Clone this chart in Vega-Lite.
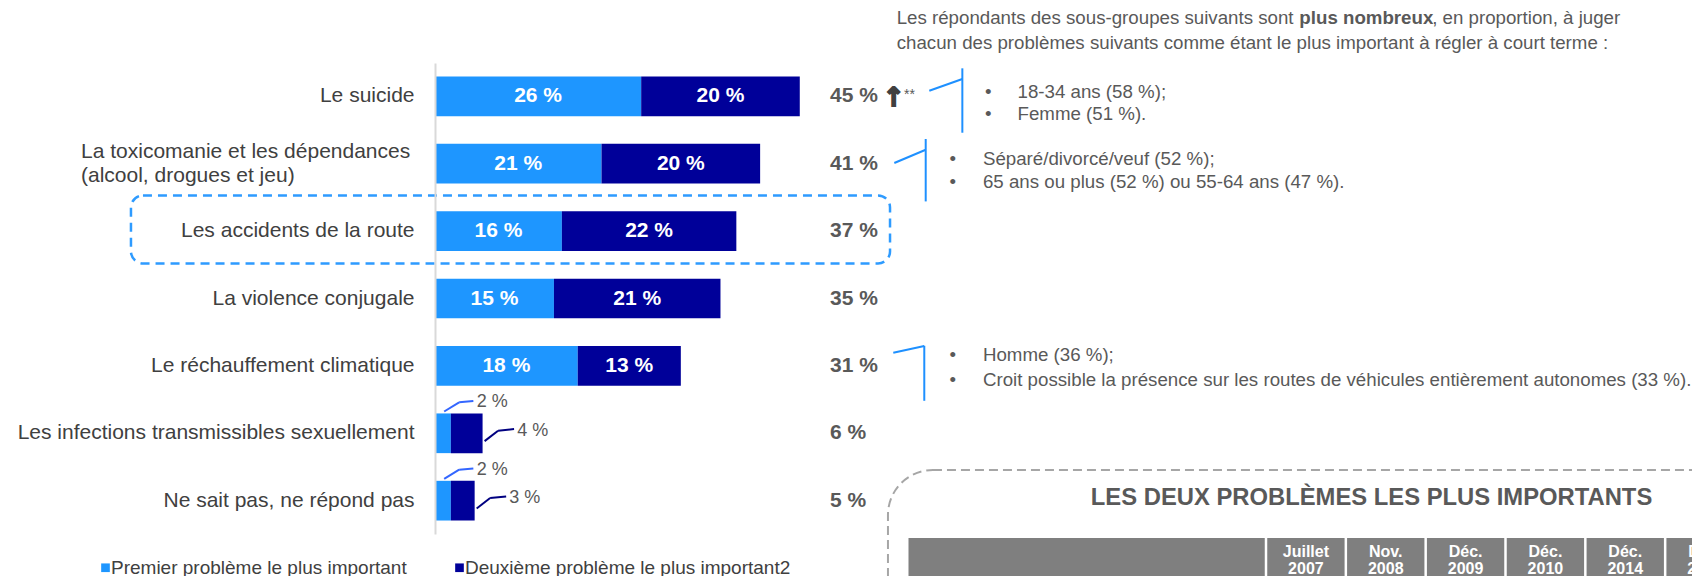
{
  "$schema": "https://vega.github.io/schema/vega-lite/v6.json",
  "width": 1692,
  "height": 471,
  "autosize": "none",
  "padding": {"left": 0, "top": 63, "right": 0, "bottom": 42},
  "background": "white",
  "config": {
    "font": "Liberation Sans",
    "view": {"stroke": null},
    "locale": {"number": {"decimal": ",", "thousands": " ", "grouping": [3], "currency": ["", " $"], "percent": " %"}}
  },
  "datasets": {
    "barres": [
      {"probleme": "Le suicide", "serie": "Premier problème le plus important", "valeur": 0.26},
      {"probleme": "Le suicide", "serie": "Deuxième problème le plus important2", "valeur": 0.20},
      {"probleme": "La toxicomanie et les dépendances (alcool, drogues et jeu)", "serie": "Premier problème le plus important", "valeur": 0.21},
      {"probleme": "La toxicomanie et les dépendances (alcool, drogues et jeu)", "serie": "Deuxième problème le plus important2", "valeur": 0.20},
      {"probleme": "Les accidents de la route", "serie": "Premier problème le plus important", "valeur": 0.16},
      {"probleme": "Les accidents de la route", "serie": "Deuxième problème le plus important2", "valeur": 0.22},
      {"probleme": "La violence conjugale", "serie": "Premier problème le plus important", "valeur": 0.15},
      {"probleme": "La violence conjugale", "serie": "Deuxième problème le plus important2", "valeur": 0.21},
      {"probleme": "Le réchauffement climatique", "serie": "Premier problème le plus important", "valeur": 0.18},
      {"probleme": "Le réchauffement climatique", "serie": "Deuxième problème le plus important2", "valeur": 0.13},
      {"probleme": "Les infections transmissibles sexuellement", "serie": "Premier problème le plus important", "valeur": 0.02},
      {"probleme": "Les infections transmissibles sexuellement", "serie": "Deuxième problème le plus important2", "valeur": 0.04},
      {"probleme": "Ne sait pas, ne répond pas", "serie": "Premier problème le plus important", "valeur": 0.02},
      {"probleme": "Ne sait pas, ne répond pas", "serie": "Deuxième problème le plus important2", "valeur": 0.03}
    ],
    "totaux": [
      {"probleme": "Le suicide", "total": 0.45},
      {"probleme": "La toxicomanie et les dépendances (alcool, drogues et jeu)", "total": 0.41},
      {"probleme": "Les accidents de la route", "total": 0.37},
      {"probleme": "La violence conjugale", "total": 0.35},
      {"probleme": "Le réchauffement climatique", "total": 0.31},
      {"probleme": "Les infections transmissibles sexuellement", "total": 0.06},
      {"probleme": "Ne sait pas, ne répond pas", "total": 0.05}
    ],
    "periodes": [
      {"periode": "Juillet 2007"},
      {"periode": "Nov. 2008"},
      {"periode": "Déc. 2009"},
      {"periode": "Déc. 2010"},
      {"periode": "Déc. 2014"},
      {"periode": "Déc. 2016"}
    ],
    "une": [{}]
  },
  "data": {"name": "barres"},
  "resolve": {"scale": {"x": "independent"}},
  "layer": [
    {
      "layer": [
        {
          "data": {"name": "une"},
          "mark": {"type": "rect", "fill": "transparent", "stroke": "#2E9BFF", "strokeWidth": 2.5, "strokeDash": [9, 6], "cornerRadius": 12, "yOffset": -35.7, "y2Offset": 32.3},
          "encoding": {
            "x": {"datum": -0.3834, "axis": null},
            "x2": {"datum": 0.5738},
            "y": {"datum": "Les accidents de la route"},
            "y2": {"datum": "Les accidents de la route"}
          }
        },
        {
          "transform": [{"stack": "valeur", "groupby": ["probleme"], "sort": [{"field": "serie", "order": "descending"}], "as": ["debut", "fin"]}],
          "mark": {"type": "bar"},
          "encoding": {
            "y": {
              "field": "probleme", "type": "nominal", "title": null,
              "scale": {"domain": ["Le suicide", "La toxicomanie et les dépendances (alcool, drogues et jeu)", "Les accidents de la route", "La violence conjugale", "Le réchauffement climatique", "Les infections transmissibles sexuellement", "Ne sait pas, ne répond pas"], "paddingInner": 0.411, "paddingOuter": 0.2},
              "axis": {
                "title": null, "offset": -435, "domainColor": "#D9D9D9", "domainWidth": 2, "ticks": false, "grid": false,
                "labelPadding": 21, "labelFontSize": 21, "labelColor": "#404040", "labelLimit": 600,
                "labelExpr": "datum.value == 'La toxicomanie et les dépendances (alcool, drogues et jeu)' ? '' : datum.value"
              }
            },
            "x": {"field": "debut", "type": "quantitative", "axis": null, "scale": {"domain": [-0.54855, 1.58512], "nice": false, "zero": false}},
            "x2": {"field": "fin"},
            "color": {
              "field": "serie", "type": "nominal",
              "scale": {"domain": ["Premier problème le plus important", "Deuxième problème le plus important2"], "range": ["#1E96FF", "#000099"]},
              "legend": {"orient": "none", "legendX": 96, "legendY": 495, "direction": "horizontal", "title": null, "symbolType": "square", "symbolSize": 75, "symbolStrokeWidth": 0, "labelFontSize": 19, "labelColor": "#404040", "labelOffset": -4, "columnPadding": 43, "labelLimit": 500}
            }
          }
        },
        {
          "data": {"name": "une"},
          "mark": {"type": "text", "text": ["La toxicomanie et les dépendances", "(alcool, drogues et jeu)"], "fontSize": 21, "color": "#404040", "align": "left", "baseline": "middle", "dy": -11.8, "lineHeight": 23.7},
          "encoding": {"x": {"datum": -0.4464, "axis": null}, "y": {"datum": "La toxicomanie et les dépendances (alcool, drogues et jeu)"}}
        },
        {
          "transform": [
            {"stack": "valeur", "groupby": ["probleme"], "sort": [{"field": "serie", "order": "descending"}], "as": ["debut", "fin"]},
            {"filter": "datum.valeur >= 0.1"},
            {"fold": ["debut", "fin"], "as": ["borne", "pos"]},
            {"aggregate": [{"op": "mean", "field": "pos", "as": "milieu"}], "groupby": ["probleme", "serie", "valeur"]}
          ],
          "mark": {"type": "text", "color": "white", "fontWeight": "bold", "fontSize": 21, "align": "center", "baseline": "middle"},
          "encoding": {
            "x": {"field": "milieu", "type": "quantitative", "axis": null},
            "y": {"field": "probleme", "type": "nominal"},
            "text": {"field": "valeur", "type": "quantitative", "format": ".0%"}
          }
        },
        {
          "transform": [
            {"stack": "valeur", "groupby": ["probleme"], "sort": [{"field": "serie", "order": "descending"}], "as": ["debut", "fin"]},
            {"filter": "datum.valeur < 0.1 && datum.serie == 'Premier problème le plus important'"}
          ],
          "layer": [
            {
              "mark": {"type": "text", "color": "#595959", "fontSize": 18, "align": "left", "baseline": "middle", "dx": 26, "dy": -31},
              "encoding": {
                "x": {"field": "fin", "type": "quantitative", "axis": null},
                "y": {"field": "probleme", "type": "nominal"},
                "text": {"field": "valeur", "type": "quantitative", "format": ".0%"}
              }
            },
            {
              "mark": {"type": "rule", "color": "#3366FF", "strokeWidth": 2, "xOffset": -6.7, "x2Offset": 8.3, "yOffset": -21.8, "y2Offset": -31},
              "encoding": {
                "x": {"field": "fin", "type": "quantitative", "axis": null},
                "x2": {"field": "fin"},
                "y": {"field": "probleme", "type": "nominal"},
                "y2": {"field": "probleme"}
              }
            },
            {
              "mark": {"type": "rule", "color": "#3366FF", "strokeWidth": 2, "xOffset": 8.3, "x2Offset": 22.5, "yOffset": -31, "y2Offset": -32.2},
              "encoding": {
                "x": {"field": "fin", "type": "quantitative", "axis": null},
                "x2": {"field": "fin"},
                "y": {"field": "probleme", "type": "nominal"},
                "y2": {"field": "probleme"}
              }
            }
          ]
        },
        {
          "transform": [
            {"stack": "valeur", "groupby": ["probleme"], "sort": [{"field": "serie", "order": "descending"}], "as": ["debut", "fin"]},
            {"filter": "datum.valeur < 0.1 && datum.serie == 'Deuxième problème le plus important2'"}
          ],
          "layer": [
            {
              "mark": {"type": "text", "color": "#595959", "fontSize": 18, "align": "left", "baseline": "middle", "dx": 34.7, "dy": -2.6},
              "encoding": {
                "x": {"field": "fin", "type": "quantitative", "axis": null},
                "y": {"field": "probleme", "type": "nominal"},
                "text": {"field": "valeur", "type": "quantitative", "format": ".0%"}
              }
            },
            {
              "mark": {"type": "rule", "color": "#000080", "strokeWidth": 2, "xOffset": 2, "x2Offset": 15.5, "yOffset": 7.8, "y2Offset": -2.6},
              "encoding": {
                "x": {"field": "fin", "type": "quantitative", "axis": null},
                "x2": {"field": "fin"},
                "y": {"field": "probleme", "type": "nominal"},
                "y2": {"field": "probleme"}
              }
            },
            {
              "mark": {"type": "rule", "color": "#000080", "strokeWidth": 2, "xOffset": 15.5, "x2Offset": 31.5, "yOffset": -2.6, "y2Offset": -4.2},
              "encoding": {
                "x": {"field": "fin", "type": "quantitative", "axis": null},
                "x2": {"field": "fin"},
                "y": {"field": "probleme", "type": "nominal"},
                "y2": {"field": "probleme"}
              }
            }
          ]
        },
        {
          "data": {"name": "totaux"},
          "mark": {"type": "text", "color": "#595959", "fontWeight": "bold", "fontSize": 21, "align": "left", "baseline": "middle"},
          "encoding": {
            "x": {"datum": 0.4981, "axis": null},
            "y": {"field": "probleme", "type": "nominal"},
            "text": {"field": "total", "type": "quantitative", "format": ".0%"}
          }
        },
        {
          "data": {"name": "une"},
          "layer": [
            {
              "mark": {"type": "text", "text": "↑", "font": "DejaVu Sans", "fontWeight": "bold", "fontSize": 26, "color": "#404040", "stroke": "#404040", "strokeWidth": 1.8, "align": "left", "baseline": "middle", "dy": 2},
              "encoding": {"x": {"datum": 0.5650, "axis": null}, "y": {"datum": "Le suicide"}}
            },
            {
              "mark": {"type": "text", "text": "**", "fontSize": 14, "color": "#595959", "align": "left", "baseline": "middle", "dy": -1},
              "encoding": {"x": {"datum": 0.5914, "axis": null}, "y": {"datum": "Le suicide"}}
            },
            {
              "mark": {"type": "text", "text": "Les répondants des sous-groupes suivants sont", "fontSize": 18.7, "color": "#595959", "align": "left", "baseline": "middle", "dy": -78},
              "encoding": {"x": {"datum": 0.5822, "axis": null}, "y": {"datum": "Le suicide"}}
            },
            {
              "mark": {"type": "text", "text": "plus nombreux", "fontSize": 18.7, "fontWeight": "bold", "color": "#595959", "align": "left", "baseline": "middle", "dy": -78},
              "encoding": {"x": {"datum": 1.0900, "axis": null}, "y": {"datum": "Le suicide"}}
            },
            {
              "mark": {"type": "text", "text": ", en proportion, à juger", "fontSize": 18.7, "color": "#595959", "align": "left", "baseline": "middle", "dy": -78},
              "encoding": {"x": {"datum": 1.2575, "axis": null}, "y": {"datum": "Le suicide"}}
            },
            {
              "mark": {"type": "text", "text": "chacun des problèmes suivants comme étant le plus important à régler à court terme :", "fontSize": 18.7, "color": "#595959", "align": "left", "baseline": "middle", "dy": -53.6},
              "encoding": {"x": {"datum": 0.5822, "axis": null}, "y": {"datum": "Le suicide"}}
            },
            {
              "mark": {"type": "rule", "color": "#1E90FF", "strokeWidth": 2, "yOffset": -5.6, "y2Offset": -17.3},
              "encoding": {"x": {"datum": 0.6233, "axis": null}, "x2": {"datum": 0.6650}, "y": {"datum": "Le suicide"}, "y2": {"datum": "Le suicide"}}
            },
            {
              "mark": {"type": "rule", "color": "#1E90FF", "strokeWidth": 2, "yOffset": -28, "y2Offset": 36.4},
              "encoding": {"x": {"datum": 0.6650, "axis": null}, "y": {"datum": "Le suicide"}, "y2": {"datum": "Le suicide"}}
            },
            {
              "mark": {"type": "rule", "color": "#1E90FF", "strokeWidth": 2, "yOffset": -0.7, "y2Offset": -14},
              "encoding": {"x": {"datum": 0.5792, "axis": null}, "x2": {"datum": 0.6188}, "y": {"datum": "La toxicomanie et les dépendances (alcool, drogues et jeu)"}, "y2": {"datum": "La toxicomanie et les dépendances (alcool, drogues et jeu)"}}
            },
            {
              "mark": {"type": "rule", "color": "#1E90FF", "strokeWidth": 2, "yOffset": -24.7, "y2Offset": 37.7},
              "encoding": {"x": {"datum": 0.6188, "axis": null}, "y": {"datum": "La toxicomanie et les dépendances (alcool, drogues et jeu)"}, "y2": {"datum": "La toxicomanie et les dépendances (alcool, drogues et jeu)"}}
            },
            {
              "mark": {"type": "rule", "color": "#1E90FF", "strokeWidth": 2, "yOffset": -13.1, "y2Offset": -19.8},
              "encoding": {"x": {"datum": 0.5779, "axis": null}, "x2": {"datum": 0.6170}, "y": {"datum": "Le réchauffement climatique"}, "y2": {"datum": "Le réchauffement climatique"}}
            },
            {
              "mark": {"type": "rule", "color": "#1E90FF", "strokeWidth": 2, "yOffset": -20.1, "y2Offset": 34.9},
              "encoding": {"x": {"datum": 0.6170, "axis": null}, "y": {"datum": "Le réchauffement climatique"}, "y2": {"datum": "Le réchauffement climatique"}}
            },
            {
              "mark": {"type": "text", "text": ["•", "•"], "fontSize": 18.7, "color": "#595959", "align": "left", "baseline": "middle", "dy": -4.3, "lineHeight": 21.5},
              "encoding": {"x": {"datum": 0.6936, "axis": null}, "y": {"datum": "Le suicide"}}
            },
            {
              "mark": {"type": "text", "text": ["18-34 ans (58 %);", "Femme (51 %)."], "fontSize": 18.7, "color": "#595959", "align": "left", "baseline": "middle", "dy": -4.3, "lineHeight": 21.5},
              "encoding": {"x": {"datum": 0.7346, "axis": null}, "y": {"datum": "Le suicide"}}
            },
            {
              "mark": {"type": "text", "text": ["•", "•"], "fontSize": 18.7, "color": "#595959", "align": "left", "baseline": "middle", "dy": -4.3, "lineHeight": 22.7},
              "encoding": {"x": {"datum": 0.6488, "axis": null}, "y": {"datum": "La toxicomanie et les dépendances (alcool, drogues et jeu)"}}
            },
            {
              "mark": {"type": "text", "text": ["Séparé/divorcé/veuf (52 %);", "65 ans ou plus (52 %) ou 55-64 ans (47 %)."], "fontSize": 18.7, "color": "#595959", "align": "left", "baseline": "middle", "dy": -4.3, "lineHeight": 22.7},
              "encoding": {"x": {"datum": 0.6910, "axis": null}, "y": {"datum": "La toxicomanie et les dépendances (alcool, drogues et jeu)"}}
            },
            {
              "mark": {"type": "text", "text": ["•", "•"], "fontSize": 18.7, "color": "#595959", "align": "left", "baseline": "middle", "dy": -10.8, "lineHeight": 24.8},
              "encoding": {"x": {"datum": 0.6488, "axis": null}, "y": {"datum": "Le réchauffement climatique"}}
            },
            {
              "mark": {"type": "text", "text": ["Homme (36 %);", "Croit possible la présence sur les routes de véhicules entièrement autonomes (33 %)."], "fontSize": 18.7, "color": "#595959", "align": "left", "baseline": "middle", "dy": -10.8, "lineHeight": 24.8},
              "encoding": {"x": {"datum": 0.6910, "axis": null}, "y": {"datum": "Le réchauffement climatique"}}
            },
            {
              "mark": {"type": "rect", "fill": "transparent", "stroke": "#A6A6A6", "strokeWidth": 2, "strokeDash": [9, 5], "cornerRadius": 45, "yOffset": -30.7, "y2Offset": 150},
              "encoding": {"x": {"datum": 0.5712, "axis": null}, "x2": {"datum": 1.65}, "y": {"datum": "Ne sait pas, ne répond pas"}, "y2": {"datum": "Ne sait pas, ne répond pas"}}
            },
            {
              "mark": {"type": "text", "text": "LES DEUX PROBLÈMES LES PLUS IMPORTANTS", "fontSize": 23.8, "fontWeight": "bold", "color": "#595959", "align": "center", "baseline": "middle", "dy": -2.5},
              "encoding": {"x": {"datum": 1.181, "axis": null}, "y": {"datum": "Ne sait pas, ne répond pas"}}
            },
            {
              "mark": {"type": "rect", "fill": "#7F7F7F", "yOffset": 37.3, "y2Offset": 90},
              "encoding": {"x": {"datum": 0.5971, "axis": null}, "x2": {"datum": 1.65}, "y": {"datum": "Ne sait pas, ne répond pas"}, "y2": {"datum": "Ne sait pas, ne répond pas"}}
            }
          ]
        }
      ]
    },
    {
      "data": {"name": "periodes"},
      "layer": [
        {
          "mark": {"type": "rule", "color": "white", "strokeWidth": 2.5, "yOffset": 37.3, "y2Offset": 90},
          "encoding": {
            "x": {"field": "periode", "type": "nominal", "bandPosition": 0, "axis": null, "sort": null, "scale": {"domain": ["Juillet 2007", "Nov. 2008", "Déc. 2009", "Déc. 2010", "Déc. 2014", "Déc. 2016"], "range": [1266, 1745], "paddingInner": 0, "paddingOuter": 0}},
            "y": {"datum": "Ne sait pas, ne répond pas"},
            "y2": {"datum": "Ne sait pas, ne répond pas"}
          }
        },
        {
          "mark": {"type": "text", "color": "white", "fontWeight": "bold", "fontSize": 16, "align": "center", "baseline": "middle", "lineBreak": " ", "lineHeight": 17.5, "dy": 51},
          "encoding": {
            "x": {"field": "periode", "type": "nominal", "axis": null, "sort": null},
            "y": {"datum": "Ne sait pas, ne répond pas"},
            "text": {"field": "periode", "type": "nominal"}
          }
        }
      ]
    }
  ]
}
